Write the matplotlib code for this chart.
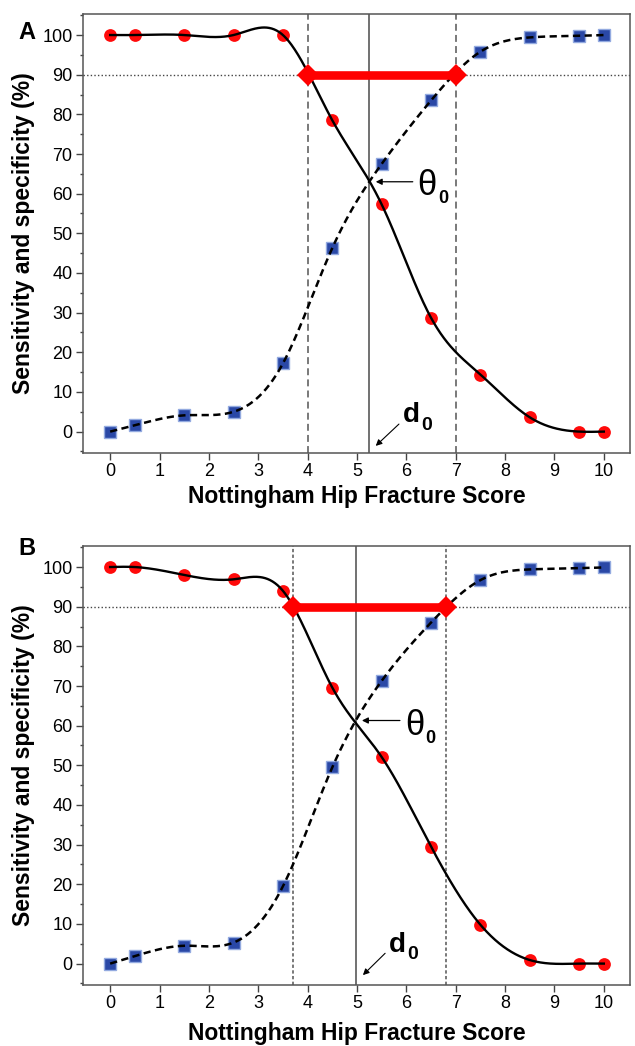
import numpy as np
import matplotlib
matplotlib.use("Agg")
import matplotlib.pyplot as plt

plt.rcParams['font.family'] = ['Liberation Sans', 'DejaVu Sans']
plt.rcParams['lines.scale_dashes'] = False

# ---------------- data ----------------
scores = [0, 0.5, 1.5, 2.5, 3.5, 4.5, 5.5, 6.5, 7.5, 8.5, 9.5, 10]
xticks = [0, 1, 2, 3, 4, 5, 6, 7, 8, 9, 10]
yticks = [0, 10, 20, 30, 40, 50, 60, 70, 80, 90, 100]

spec_A = [100, 100, 100, 100, 100, 78.5, 57.3, 28.7, 14.4, 3.6, 0, 0]
sens_A = [0, 1.6, 4.1, 5.0, 17.2, 46.3, 67.5, 83.5, 95.8, 99.4, 99.8, 100]
spec_B = [100, 100, 98.0, 96.9, 94.0, 69.6, 52.1, 29.5, 9.8, 0.9, 0, 0]
sens_B = [0, 1.9, 4.5, 5.3, 19.5, 49.5, 71.3, 86.0, 96.7, 99.4, 99.7, 99.9]

level = 90                     # target sensitivity/specificity
lo_A, hi_A, d0_A, th_A = 4.0, 7.0, 5.25, 63.0
lo_B, hi_B, d0_B, th_B = 3.7, 6.8, 4.97, 61.3


def natural_spline(x, y, xs):
    x = np.asarray(x, float)
    y = np.asarray(y, float)
    n = len(x)
    h = np.diff(x)
    A = np.zeros((n, n))
    r = np.zeros(n)
    A[0, 0] = 1
    A[-1, -1] = 1
    for i in range(1, n - 1):
        A[i, i - 1] = h[i - 1]
        A[i, i] = 2 * (h[i - 1] + h[i])
        A[i, i + 1] = h[i]
        r[i] = 6 * ((y[i + 1] - y[i]) / h[i] - (y[i] - y[i - 1]) / h[i - 1])
    M = np.linalg.solve(A, r)
    idx = np.clip(np.searchsorted(x, xs) - 1, 0, n - 2)
    x0, x1 = x[idx], x[idx + 1]
    hh = x1 - x0
    t0 = x1 - xs
    t1 = xs - x0
    return (M[idx] * t0 ** 3 / (6 * hh) + M[idx + 1] * t1 ** 3 / (6 * hh)
            + (y[idx] / hh - M[idx] * hh / 6) * t0
            + (y[idx + 1] / hh - M[idx + 1] * hh / 6) * t1)


fig = plt.figure(figsize=(6.35, 10.46), dpi=100)
axA = fig.add_axes([0.1307, 0.5669, 0.8614, 0.4197])
axB = fig.add_axes([0.1307, 0.0583, 0.8614, 0.4197])

RED = '#FF0A0A'
BLUE = '#2A48A6'
BLUE_EDGE = '#93AAE0'

letter_y = {'A': 0.985, 'B': 1.02}
xlabel_pad = {'A': 3.5, 'B': 7}


def draw(ax, spec, sens, lo, hi, d0, th, vdash, letter, th_text, d_text):
    xs = np.linspace(scores[0], scores[-1], 600)
    ax.set_xlim(-0.55, 10.53)
    ax.set_ylim(-5.4, 105.3)

    # reference lines
    ax.axhline(level, color='#444444', lw=1.0, ls=(0, (1.0, 1.6)), zorder=1)
    for v in (lo, hi):
        ax.axvline(v, color='#555555', lw=1.1, ls=(0, vdash), zorder=1)
    ax.axvline(d0, color='#666666', lw=1.3, zorder=1)

    # markers
    ax.plot(scores, spec, 'o', color=RED, ms=9.2, mec=RED, mew=0, zorder=3)
    ax.plot(scores, sens, 's', color=BLUE, ms=8.4, mec=BLUE_EDGE, mew=1.0, zorder=3)

    # smooth curves
    ax.plot(xs, natural_spline(scores, spec, xs), color='black', lw=1.7, zorder=4)
    ax.plot(xs, natural_spline(scores, sens, xs), color='black', lw=1.8,
            ls=(0, (5.2, 3.2)), zorder=4)

    # interval bar
    ax.plot([lo, hi], [level, level], color='#FF0000', lw=6.2, zorder=5,
            solid_capstyle='butt')
    ax.plot([lo, hi], [level, level], 'D', color='#FF0000', ms=11.5, mew=0, zorder=6)

    # theta annotation
    ax.annotate('', xy=(d0 + 0.13, th), xytext=(th_text[0] - 0.1, th),
                arrowprops=dict(arrowstyle='-|>', color='black', lw=0.9,
                                mutation_scale=9, shrinkA=0, shrinkB=0), zorder=7)
    ax.text(th_text[0], th_text[1], '\u03b8', fontsize=25, ha='left', va='center')
    ax.text(th_text[0] + 0.41, th_text[1] - 3.2, '0', fontsize=13,
            fontweight='bold', ha='left', va='center')

    # d0 annotation
    ax.annotate('', xy=(d_text[2], d_text[3]), xytext=(d_text[0] - 0.08, d_text[1] - 0.4),
                arrowprops=dict(arrowstyle='-|>', color='black', lw=0.8,
                                mutation_scale=9, shrinkA=0, shrinkB=0), zorder=7)
    ax.text(d_text[0], d_text[1], 'd', fontsize=20, fontweight='bold',
            ha='left', va='baseline')
    ax.text(d_text[0] + 0.37, d_text[1] - 1.8, '0', fontsize=14,
            fontweight='bold', ha='left', va='baseline')

    # axes styling
    for s in ax.spines.values():
        s.set_color('#555555')
        s.set_linewidth(1.1)
    ax.set_xticks(xticks)
    ax.set_yticks(yticks)
    ax.set_yticks(np.arange(-5, 106, 10), minor=True)
    ax.tick_params(axis='both', which='major', direction='out', length=5,
                   width=1.0, color='#444444', labelsize=13, pad=2.5)
    ax.tick_params(axis='y', which='minor', direction='out', length=2.5,
                   width=1.0, color='#444444')
    ax.set_xlabel('Nottingham Hip Fracture Score', fontsize=16.5,
                  fontweight='bold', labelpad=xlabel_pad[letter])
    ax.set_ylabel('Sensitivity and specificity (%)', fontsize=16.5,
                  fontweight='bold')
    ax.yaxis.set_label_coords(-0.087, 0.5)
    ax.text(-0.102, letter_y[letter], letter, transform=ax.transAxes, fontsize=17,
            fontweight='bold', ha='center', va='top')


draw(axA, spec_A, sens_A, lo_A, hi_A, d0_A, th_A, (5.0, 3.0), 'A',
     (6.23, 62.0), (5.93, 2.3, 5.38, -3.6))
draw(axB, spec_B, sens_B, lo_B, hi_B, d0_B, th_B, (2.4, 1.7), 'B',
     (5.97, 60.0), (5.65, 3.0, 5.12, -2.9))

fig.savefig('out.png', dpi=100)
